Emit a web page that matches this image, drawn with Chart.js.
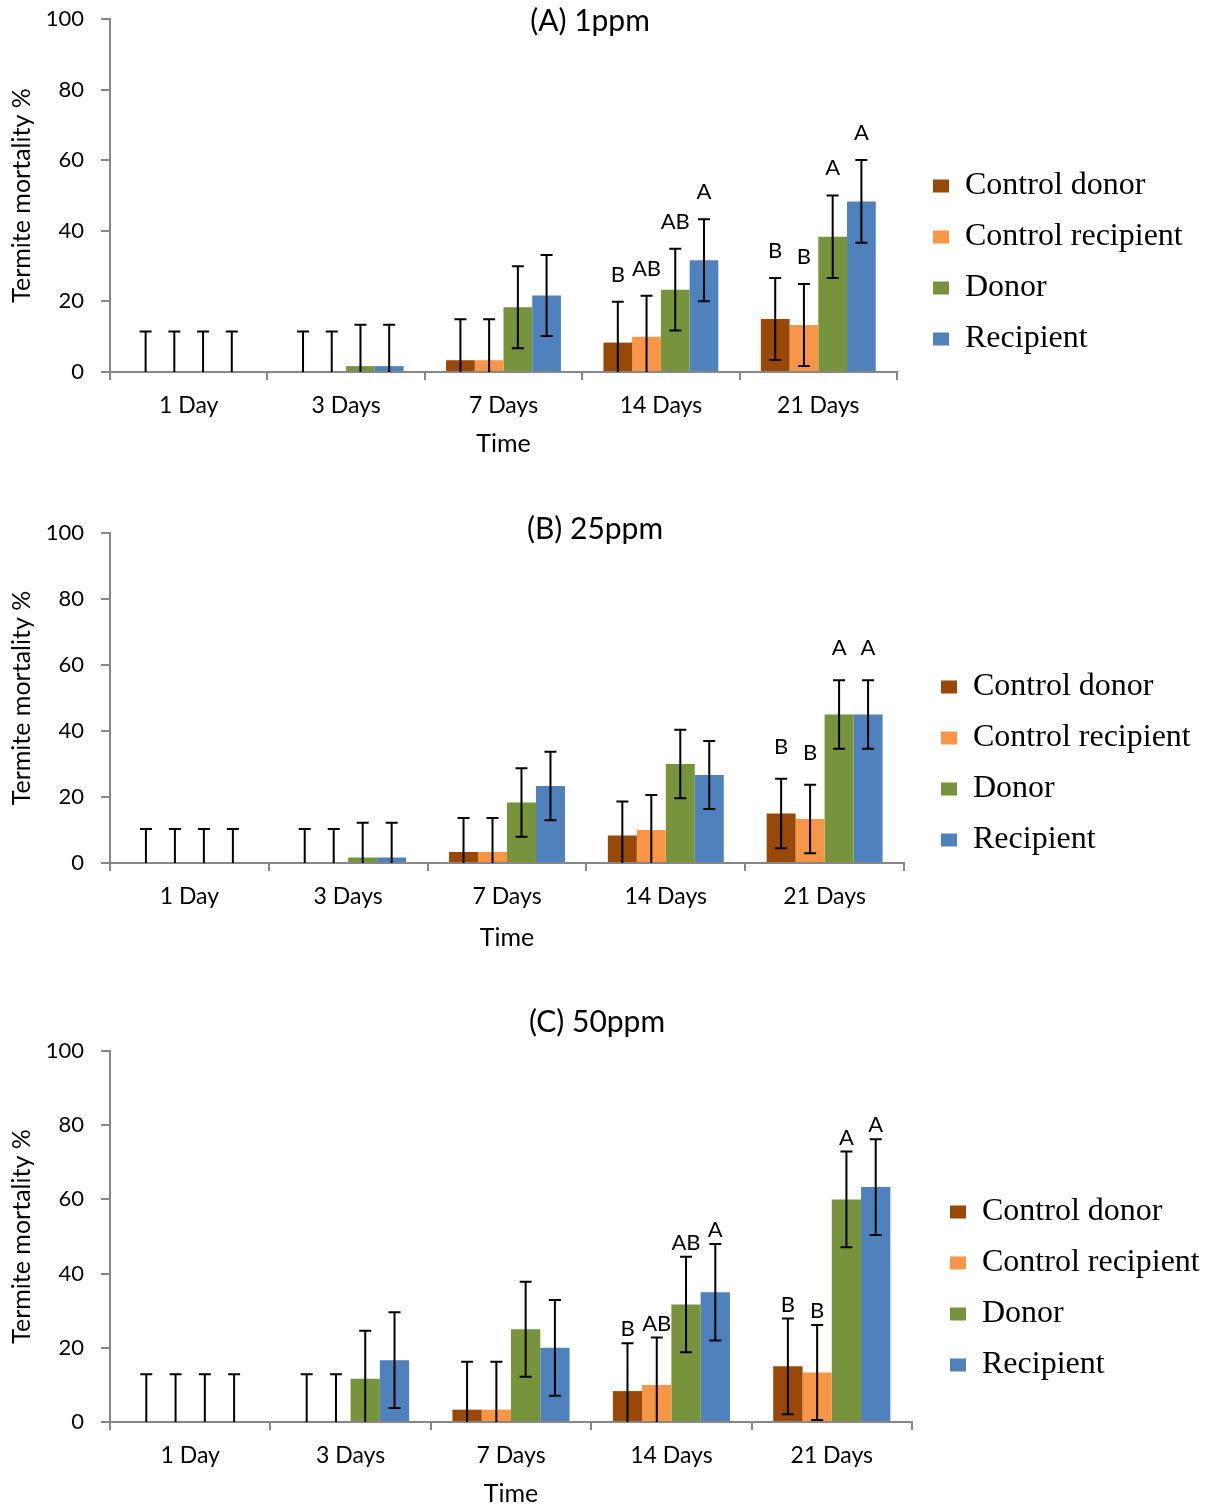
<!DOCTYPE html>
<html>
<head>
<meta charset="utf-8">
<script src="https://cdn.jsdelivr.net/npm/chart.js@4/dist/chart.umd.min.js"></script>
<style>
  html, body { margin: 0; padding: 0; background: #fff; overflow: hidden; }
  .panel { position: absolute; left: 0; width: 1208px; }
</style>
</head>
<body>
<div class="panel" style="top:-12px"><canvas id="chartA" width="1208" height="471"></canvas></div>
<div class="panel" style="top:500px"><canvas id="chartB" width="1208" height="453"></canvas></div>
<div class="panel" style="top:990px"><canvas id="chartC" width="1208" height="519"></canvas></div>
<script>
// categories + series
const days = ["1 Day", "3 Days", "7 Days", "14 Days", "21 Days"];
const seriesNames = ["Control donor", "Control recipient", "Donor", "Recipient"];
const seriesColors = ["#984807", "#F79646", "#77933C", "#4F81BD"];

// (A) 1ppm
const a_controlDonor = [0, 0, 3.33, 8.33, 15];
const a_controlRecipient = [0, 0, 3.33, 10, 13.33];
const a_donor = [0, 1.67, 18.33, 23.33, 38.33];
const a_recipient = [0, 1.67, 21.67, 31.67, 48.33];
const a_errCD = [11.5, 11.5, 11.6, 11.6, 11.6];
const a_errCR = [11.5, 11.5, 11.6, 11.6, 11.6];
const a_errD = [11.5, 11.7, 11.6, 11.6, 11.7];
const a_errR = [11.5, 11.7, 11.5, 11.6, 11.7];
const a_lettersCD = ["", "", "", "B", "B"];
const a_lettersCR = ["", "", "", "AB", "B"];
const a_lettersD = ["", "", "", "AB", "A"];
const a_lettersR = ["", "", "", "A", "A"];

// (B) 25ppm
const b_controlDonor = [0, 0, 3.33, 8.33, 15];
const b_controlRecipient = [0, 0, 3.33, 10, 13.33];
const b_donor = [0, 1.67, 18.33, 30, 45];
const b_recipient = [0, 1.67, 23.33, 26.67, 45];
const b_errCD = [10.3, 10.3, 10.3, 10.3, 10.5];
const b_errCR = [10.3, 10.3, 10.3, 10.6, 10.4];
const b_errD = [10.3, 10.5, 10.4, 10.4, 10.4];
const b_errR = [10.3, 10.5, 10.4, 10.3, 10.4];
const b_lettersCD = ["", "", "", "", "B"];
const b_lettersCR = ["", "", "", "", "B"];
const b_lettersD = ["", "", "", "", "A"];
const b_lettersR = ["", "", "", "", "A"];

// (C) 50ppm
const c_controlDonor = [0, 0, 3.33, 8.33, 15];
const c_controlRecipient = [0, 0, 3.33, 10, 13.33];
const c_donor = [0, 11.67, 25, 31.67, 60];
const c_recipient = [0, 16.67, 20, 35, 63.33];
const c_errCD = [12.9, 12.9, 12.9, 12.9, 12.9];
const c_errCR = [12.9, 12.9, 12.9, 12.8, 12.8];
const c_errD = [12.9, 12.9, 12.8, 12.9, 12.9];
const c_errR = [12.9, 12.9, 12.9, 13, 12.9];
const c_lettersCD = ["", "", "", "B", "B"];
const c_lettersCR = ["", "", "", "AB", "B"];
const c_lettersD = ["", "", "", "AB", "A"];
const c_lettersR = ["", "", "", "A", "A"];

const axisGrey = "#878787";
const sansFont = "Lato";

// error bars + significance letters, drawn with the y scale
const errorBars = {
  id: "errorBars",
  afterDatasetsDraw(chart, args, opts) {
    const { ctx, chartArea } = chart;
    const y = chart.scales.y;
    chart.data.datasets.forEach((ds, di) => {
      const meta = chart.getDatasetMeta(di);
      meta.data.forEach((bar, i) => {
        const v = ds.data[i];
        const e = ds.errors[i];
        const top = y.getPixelForValue(v + e);
        const bot = y.getPixelForValue(v - e);
        ctx.save();
        ctx.beginPath();
        ctx.rect(chartArea.left, chartArea.top - 5, chartArea.width, chartArea.height + 5);
        ctx.clip();
        ctx.strokeStyle = "#000";
        ctx.lineWidth = 2;
        ctx.beginPath();
        ctx.moveTo(bar.x, top);
        ctx.lineTo(bar.x, bot);
        ctx.moveTo(bar.x - 6, top);
        ctx.lineTo(bar.x + 6, top);
        ctx.moveTo(bar.x - 6, bot);
        ctx.lineTo(bar.x + 6, bot);
        ctx.stroke();
        ctx.restore();
        const letter = ds.letters[i];
        if (letter) {
          ctx.save();
          ctx.fillStyle = "#000";
          ctx.font = "22px " + sansFont;
          ctx.textAlign = "center";
          ctx.textBaseline = "middle";
          ctx.fillText(letter, bar.x, top - opts.letterGap);
          ctx.restore();
        }
      });
    });
  }
};

// panel heading like "(A) 1ppm"
const panelTitle = {
  id: "panelTitle",
  afterDraw(chart, args, opts) {
    const ctx = chart.ctx;
    ctx.save();
    ctx.fillStyle = "#000";
    ctx.font = "30px " + sansFont;
    ctx.textAlign = "center";
    ctx.textBaseline = "middle";
    ctx.fillText(opts.text, opts.x, opts.y);
    ctx.restore();
  }
};

// move the legend to where Excel put it
const placeLegend = {
  id: "placeLegend",
  afterLayout(chart, args, opts) {
    const lg = chart.legend;
    if (!lg) return;
    const lbl = chart.options.plugins.legend.labels;
    const itemH = Math.max(lbl.font.size, lbl.boxHeight);
    const w = lg.width, h = lg.height;
    lg.left = opts.x - lbl.padding;
    lg.right = lg.left + w;
    lg.top = opts.y - lbl.padding - itemH / 2;
    lg.bottom = lg.top + h;
  }
};

function makePanel(id, cfg) {
  const ctx = document.getElementById(id).getContext("2d");
  const datasets = cfg.values.map((vals, k) => ({
    label: seriesNames[k],
    data: vals,
    errors: cfg.errors[k],
    letters: cfg.letters[k],
    backgroundColor: seriesColors[k],
    borderWidth: 0,
    categoryPercentage: 0.73,
    barPercentage: 1.0
  }));
  return new Chart(ctx, {
    type: "bar",
    data: { labels: days, datasets: datasets },
    options: {
      responsive: false,
      animation: false,
      layout: { padding: { top: cfg.padTop, right: cfg.padRight, left: 0, bottom: 0 } },
      scales: {
        x: {
          grid: { display: true, drawOnChartArea: false, drawTicks: true, tickLength: 8, color: axisGrey, lineWidth: 2, offset: true },
          border: { display: true, color: axisGrey, width: 2 },
          ticks: { color: "#000", font: { family: sansFont, size: 23 }, padding: 12 },
          title: { display: true, text: "Time", color: "#000", font: { family: sansFont, size: 25 }, padding: 0 },
          afterFit: (s) => { s.height = cfg.xHeight; }
        },
        y: {
          min: 0,
          max: 100,
          ticks: { stepSize: 20, color: "#000", font: { family: sansFont, size: 22 }, padding: 17 },
          grid: { display: true, drawOnChartArea: false, drawTicks: true, tickLength: 9, color: axisGrey, lineWidth: 2 },
          border: { display: true, color: axisGrey, width: 2 },
          title: { display: true, text: "Termite mortality %", color: "#000", font: { family: sansFont, size: 25 }, padding: { top: 7, bottom: 0 } },
          afterFit: (s) => { s.width = 110; }
        }
      },
      plugins: {
        legend: {
          position: "chartArea",
          align: "start",
          labels: {
            boxWidth: 16,
            boxHeight: 13,
            padding: 19,
            color: "#000",
            font: { family: "Liberation Serif", size: 32 }
          }
        },
        tooltip: { enabled: false },
        errorBars: { letterGap: cfg.letterGap },
        panelTitle: { text: cfg.title, x: cfg.titleX, y: cfg.titleY },
        placeLegend: { x: cfg.legendX, y: cfg.legendY }
      }
    },
    plugins: [errorBars, panelTitle, placeLegend]
  });
}

makePanel("chartA", {
  title: "(A) 1ppm", titleX: 590, titleY: 33,
  values: [a_controlDonor, a_controlRecipient, a_donor, a_recipient],
  errors: [a_errCD, a_errCR, a_errD, a_errR],
  letters: [a_lettersCD, a_lettersCR, a_lettersD, a_lettersR],
  padTop: 31, padRight: 311, xHeight: 87, letterGap: 27,
  legendX: 933, legendY: 198
});

makePanel("chartB", {
  title: "(B) 25ppm", titleX: 595, titleY: 29,
  values: [b_controlDonor, b_controlRecipient, b_donor, b_recipient],
  errors: [b_errCD, b_errCR, b_errD, b_errR],
  letters: [b_lettersCD, b_lettersCR, b_lettersD, b_lettersR],
  padTop: 33, padRight: 304, xHeight: 90, letterGap: 32,
  legendX: 941, legendY: 187
});

makePanel("chartC", {
  title: "(C) 50ppm", titleX: 597, titleY: 32,
  values: [c_controlDonor, c_controlRecipient, c_donor, c_recipient],
  errors: [c_errCD, c_errCR, c_errD, c_errR],
  letters: [c_lettersCD, c_lettersCR, c_lettersD, c_lettersR],
  padTop: 61, padRight: 296, xHeight: 87, letterGap: 14,
  legendX: 950, legendY: 222
});
</script>
</body>
</html>
